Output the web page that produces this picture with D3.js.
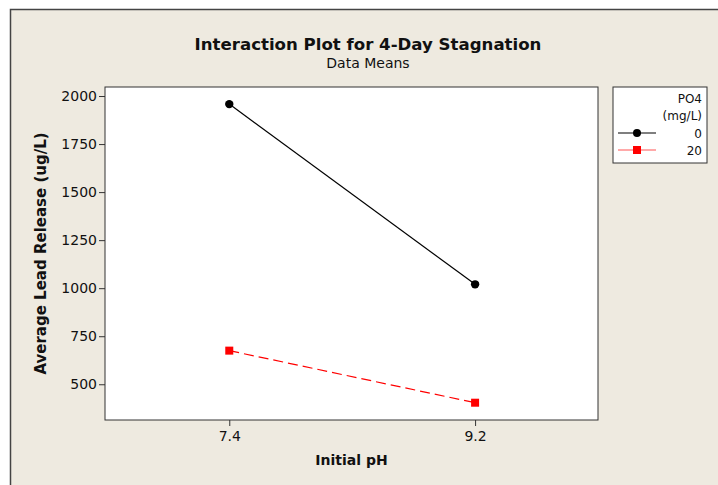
<!DOCTYPE html>
<html lang="en">
<head>
  <meta charset="utf-8">
  <title>Interaction Plot for 4-Day Stagnation</title>
  <script src="https://d3js.org/d3.v7.min.js"></script>
  <style>
    body { margin: 0; background: #fff; }
    text { font-family: "DejaVu Sans", Verdana, sans-serif; fill: #111; }
  </style>
</head>
<body>
<div id="chart"></div>
<script>
// data: PO4 levels and mean lead release at each initial pH
var phLevels = [7.4, 9.2];
var tickLabels = ["7.4", "9.2"];
var po4Groups = ["0", "20"];
var meansPO4_0 = [1958, 1020];
var meansPO4_20 = [675, 404];
var yTicks = [500, 750, 1000, 1250, 1500, 1750, 2000];

var W = 718, H = 485;
var margin = {top: 87, right: 120, bottom: 65, left: 105},
    width = 598 - margin.left,
    height = 420 - margin.top;

var svg = d3.select("#chart").append("svg")
    .attr("width", W)
    .attr("height", H);

// beige panel with border on top and left
svg.append("rect")
    .attr("x", 10).attr("y", 9)
    .attr("width", W - 10).attr("height", H - 9)
    .style("fill", "#eeeae0");
svg.append("path")
    .attr("d", "M10.5," + H + "V9.5H" + W)
    .style("fill", "none").style("stroke", "#444").style("stroke-width", 1.5);

// titles
svg.append("text")
    .attr("x", 368).attr("y", 50)
    .attr("text-anchor", "middle")
    .style("font-size", "16.6px").style("font-weight", "bold")
    .text("Interaction Plot for 4-Day Stagnation");
svg.append("text")
    .attr("x", 368).attr("y", 68)
    .attr("text-anchor", "middle")
    .style("font-size", "14px")
    .text("Data Means");

var g = svg.append("g")
    .attr("transform", "translate(" + margin.left + "," + margin.top + ")");

var x = d3.scaleLinear().domain([6.49, 10.1]).range([0, width]);
var y = d3.scaleLinear().domain([314, 2047]).range([height, 0]);

g.append("rect")
    .attr("width", width).attr("height", height)
    .style("fill", "#fff").style("stroke", "#333").style("stroke-width", 1);

// axes
var xAxis = g.append("g")
    .attr("transform", "translate(0," + height + ")")
    .call(d3.axisBottom(x).tickValues(phLevels)
      .tickFormat(function(d, i) { return tickLabels[i]; })
      .tickSize(6).tickPadding(5));
var yAxis = g.append("g")
    .call(d3.axisLeft(y).tickValues(yTicks).tickFormat(d3.format("d"))
      .tickSize(6).tickPadding(2));
[xAxis, yAxis].forEach(function(a) {
  a.select(".domain").remove();
  a.selectAll("line").style("stroke", "#333");
  a.selectAll("text").style("font-size", "14px").style("font-family", "DejaVu Sans").style("fill", "#111");
});

svg.append("text")
    .attr("x", margin.left + width / 2).attr("y", 465)
    .attr("text-anchor", "middle")
    .style("font-size", "14px").style("font-weight", "bold")
    .text("Initial pH");
svg.append("text")
    .attr("transform", "translate(46," + (margin.top + height / 2) + ") rotate(-90)")
    .attr("text-anchor", "middle")
    .style("font-size", "15px").style("font-weight", "bold")
    .text("Average Lead Release (ug/L)");

// series
var line = d3.line()
    .x(function(d, i) { return x(phLevels[i]); })
    .y(function(d) { return y(d); });

g.append("path").datum(meansPO4_0)
    .attr("d", line)
    .style("fill", "none").style("stroke", "#000").style("stroke-width", 1.2);
g.selectAll(".dot0").data(meansPO4_0).enter().append("circle")
    .attr("cx", function(d, i) { return x(phLevels[i]); })
    .attr("cy", function(d) { return y(d); })
    .attr("r", 4.2)
    .style("fill", "#000");

g.append("path").datum(meansPO4_20)
    .attr("d", line)
    .style("fill", "none").style("stroke", "#f00").style("stroke-width", 1.2)
    .style("stroke-dasharray", "10,5");
g.selectAll(".sq20").data(meansPO4_20).enter().append("rect")
    .attr("x", function(d, i) { return x(phLevels[i]) - 4; })
    .attr("y", function(d) { return y(d) - 4; })
    .attr("width", 8).attr("height", 8)
    .style("fill", "#f00");

// legend
var leg = svg.append("g");
leg.append("rect")
    .attr("x", 613).attr("y", 87).attr("width", 94).attr("height", 76)
    .style("fill", "#fff").style("stroke", "#333");
leg.append("text").attr("x", 702).attr("y", 103).attr("text-anchor", "end")
    .style("font-size", "12px").text("PO4");
leg.append("text").attr("x", 702).attr("y", 120).attr("text-anchor", "end")
    .style("font-size", "12px").text("(mg/L)");
po4Groups.forEach(function(p, i) {
  var yy = 133 + i * 17;
  leg.append("line")
      .attr("x1", 618).attr("x2", 656).attr("y1", yy).attr("y2", yy)
      .style("stroke", i ? "#f55" : "#000").style("stroke-width", 1.2);
  if (i) {
    leg.append("rect").attr("x", 633).attr("y", yy - 4).attr("width", 8).attr("height", 8)
        .style("fill", "#f00");
  } else {
    leg.append("circle").attr("cx", 637).attr("cy", yy).attr("r", 4).style("fill", "#000");
  }
  leg.append("text").attr("x", 702).attr("y", yy + 5).attr("text-anchor", "end")
      .style("font-size", "12px").text(p);
});
</script>
</body>
</html>
